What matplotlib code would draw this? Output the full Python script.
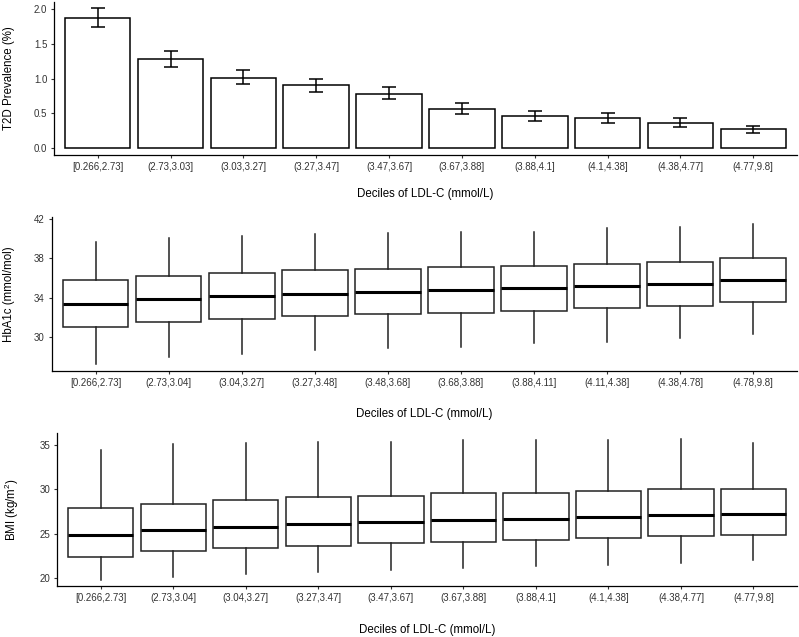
import matplotlib
matplotlib.use("Agg")
import matplotlib.pyplot as plt
import numpy as np

plt.rcParams["font.family"] = ["Liberation Sans", "DejaVu Sans"]
plt.rcParams["mathtext.fontset"] = "custom"
plt.rcParams["mathtext.rm"] = "Liberation Sans"
plt.rcParams["mathtext.it"] = "Liberation Sans:italic"

# deciles of LDL-C, one set of labels per panel
t2d_labels = ["[0.266,2.73]", "(2.73,3.03]", "(3.03,3.27]", "(3.27,3.47]", "(3.47,3.67]",
              "(3.67,3.88]", "(3.88,4.1]", "(4.1,4.38]", "(4.38,4.77]", "(4.77,9.8]"]
hba1c_labels = ["[0.266,2.73]", "(2.73,3.04]", "(3.04,3.27]", "(3.27,3.48]", "(3.48,3.68]",
                "(3.68,3.88]", "(3.88,4.11]", "(4.11,4.38]", "(4.38,4.78]", "(4.78,9.8]"]
bmi_labels = ["[0.266,2.73]", "(2.73,3.04]", "(3.04,3.27]", "(3.27,3.47]", "(3.47,3.67]",
              "(3.67,3.88]", "(3.88,4.1]", "(4.1,4.38]", "(4.38,4.77]", "(4.77,9.8]"]

# T2D prevalence (%) with CI
t2d_prev = [1.87, 1.28, 1.016, 0.906, 0.786, 0.57, 0.46, 0.436, 0.368, 0.273]
t2d_lo = [1.74, 1.17, 0.92, 0.81, 0.705, 0.498, 0.397, 0.368, 0.31, 0.22]
t2d_hi = [2.015, 1.395, 1.12, 1.0, 0.886, 0.656, 0.54, 0.508, 0.44, 0.325]

# HbA1c (mmol/mol) box stats
hba1c_whislo = [27.3, 28.0, 28.3, 28.7, 28.9, 29.0, 29.4, 29.5, 29.9, 30.3]
hba1c_q1 = [31.0, 31.6, 31.9, 32.2, 32.4, 32.5, 32.7, 33.0, 33.2, 33.6]
hba1c_med = [33.4, 33.9, 34.2, 34.4, 34.6, 34.8, 35.0, 35.2, 35.4, 35.8]
hba1c_q3 = [35.8, 36.25, 36.5, 36.8, 36.9, 37.1, 37.2, 37.4, 37.6, 38.0]
hba1c_whishi = [39.6, 40.0, 40.2, 40.5, 40.6, 40.7, 40.7, 41.1, 41.2, 41.5]

# BMI (kg/m2) box stats
bmi_whislo = [19.8, 20.15, 20.45, 20.7, 20.9, 21.1, 21.3, 21.5, 21.7, 22.0]
bmi_q1 = [22.4, 23.0, 23.4, 23.65, 23.9, 24.1, 24.3, 24.5, 24.7, 24.9]
bmi_med = [24.8, 25.4, 25.8, 26.1, 26.3, 26.5, 26.7, 26.9, 27.1, 27.2]
bmi_q3 = [27.9, 28.4, 28.8, 29.1, 29.25, 29.6, 29.6, 29.8, 30.0, 30.0]
bmi_whishi = [34.4, 35.1, 35.2, 35.3, 35.4, 35.55, 35.55, 35.55, 35.65, 35.25]

W, H = 799, 637
fig = plt.figure(figsize=(W / 100, H / 100), dpi=100)
tick_col = "#333333"


def add_ax(left, top, right, bottom):
    return fig.add_axes([left / W, 1 - bottom / H, (right - left) / W, (bottom - top) / H])


def style(ax, labels, ylabel, xpad):
    for s in ["top", "right"]:
        ax.spines[s].set_visible(False)
    for s in ["left", "bottom"]:
        ax.spines[s].set_linewidth(0.9)
    ax.set_xlim(0.4, 10.6)
    ax.set_xticks(np.arange(1, 11))
    ax.set_xticklabels(labels)
    ax.tick_params(length=2.3, width=0.8, color=tick_col, labelcolor=tick_col,
                   labelsize=7, pad=2.6)
    ax.set_xlabel("Deciles of LDL-C (mmol/L)", fontsize=8.3, labelpad=xpad)
    ax.set_ylabel(ylabel, fontsize=8.3, labelpad=13.5)


# panel 1: bars with error bars
ax1 = add_ax(54, 2, 797, 155)
x = np.arange(1, 11)
prev = np.array(t2d_prev)
err = [prev - np.array(t2d_lo), np.array(t2d_hi) - prev]
ax1.bar(x, prev, width=0.9, color="white", edgecolor="black", linewidth=1.1, zorder=2)
ax1.errorbar(x, prev, yerr=err, fmt="none", ecolor="black", elinewidth=1.1,
             capsize=5.3, capthick=1.1, zorder=3)
ax1.set_ylim(-0.096, 2.1)
ax1.set_yticks([0, 0.5, 1.0, 1.5, 2.0])
ax1.set_yticklabels(["0.0", "0.5", "1.0", "1.5", "2.0"])
style(ax1, t2d_labels, "T2D Prevalence (%)", 12)


def draw_boxes(ax, lo, q1, med, q3, hi):
    stats = [dict(whislo=a, q1=b, med=c, q3=d, whishi=e, fliers=[])
             for a, b, c, d, e in zip(lo, q1, med, q3, hi)]
    ax.bxp(stats, positions=np.arange(1, 11), widths=0.9, showcaps=False,
           patch_artist=True,
           boxprops=dict(facecolor="white", edgecolor="#222222", linewidth=1.1),
           whiskerprops=dict(color="#222222", linewidth=1.1),
           medianprops=dict(color="black", linewidth=2.2))


# panel 2: HbA1c
ax2 = add_ax(51.7, 216.7, 797, 371)
draw_boxes(ax2, hba1c_whislo, hba1c_q1, hba1c_med, hba1c_q3, hba1c_whishi)
ax2.set_ylim(26.6, 42.2)
ax2.set_yticks([30, 34, 38, 42])
style(ax2, hba1c_labels, "HbA1c (mmol/mol)", 14.5)

# panel 3: BMI
ax3 = add_ax(57.3, 432.7, 797, 586.3)
draw_boxes(ax3, bmi_whislo, bmi_q1, bmi_med, bmi_q3, bmi_whishi)
ax3.set_ylim(19.06, 36.4)
ax3.set_yticks([20, 25, 30, 35])
style(ax3, bmi_labels, "BMI (kg/m$^2$)", 15)

fig.savefig("out.png", dpi=100)
